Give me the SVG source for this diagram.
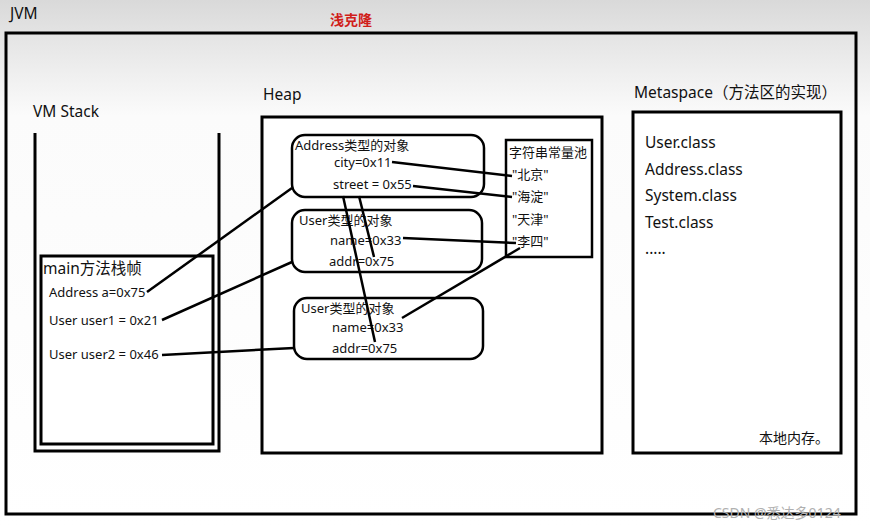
<svg xmlns="http://www.w3.org/2000/svg" width="870" height="527" viewBox="0 0 870 527">
<defs>
<linearGradient id="bg" x1="0" y1="0" x2="0" y2="1">
<stop offset="0" stop-color="#d9d9d9"/>
<stop offset="0.08" stop-color="#e6e6e6"/>
<stop offset="0.22" stop-color="#fbfbfb"/>
<stop offset="1" stop-color="#ffffff"/>
</linearGradient>
</defs>
<style>
text{font-family:"Noto Sans","Noto Sans CJK SC",sans-serif;fill:#111}
.lbl{font-size:15.5px}
.sm{font-size:13px}
.box{fill:none;stroke:#000;stroke-width:3}
.wbox{fill:#fff;stroke:#000;stroke-width:3}
.obj{fill:#fff;stroke:#000;stroke-width:2.5}
.edge{stroke:#000;stroke-width:2.5;fill:none}
</style>
<rect x="0" y="0" width="870" height="527" fill="url(#bg)"/>
<text x="10" y="19" class="lbl">JVM</text>
<text x="330" y="25" style="font-size:14px;font-weight:bold;fill:#d0201a">浅克隆</text>
<g id="jvm"><rect x="6" y="33" width="850" height="481" class="box"/></g>

<g id="vmstack">
<text x="33" y="117" class="lbl">VM Stack</text>
<path d="M35,133 V451 H219 V133" class="box"/>
</g>
<g id="mainframe">
<rect x="41" y="256" width="172" height="188" class="wbox"/>
<text x="43" y="274" class="lbl">main方法栈帧</text>
<text x="49" y="297" class="sm">Address a=0x75</text>
<text x="49" y="325" class="sm">User user1 = 0x21</text>
<text x="49" y="359" class="sm">User user2 = 0x46</text>
</g>

<g id="heap">
<text x="263" y="100" class="lbl">Heap</text>
<rect x="262" y="117" width="340" height="336" class="wbox"/>
</g>
<g id="address-obj">
<rect x="292" y="135" width="192" height="62" rx="13" class="obj"/>
<text x="295" y="150" class="sm">Address类型的对象</text>
<text x="334" y="167" class="sm">city=0x11</text>
<text x="333" y="189" class="sm">street = 0x55</text>
</g>
<g id="user-obj1">
<rect x="292" y="210" width="190" height="62" rx="13" class="obj"/>
<text x="299" y="225" class="sm">User类型的对象</text>
<text x="330" y="245" class="sm">name=0x33</text>
<text x="329" y="266" class="sm">addr=0x75</text>
</g>
<g id="user-obj2">
<rect x="294" y="298" width="189" height="61" rx="13" class="obj"/>
<text x="301" y="313" class="sm">User类型的对象</text>
<text x="332" y="332" class="sm">name=0x33</text>
<text x="332" y="353" class="sm">addr=0x75</text>
</g>
<g id="string-pool">
<rect x="506" y="140" width="86" height="117" fill="#fff" stroke="#000" stroke-width="2.5"/>
<text x="509" y="157" class="sm">字符串常量池</text>
<text x="512" y="179" class="sm">"北京"</text>
<text x="512" y="201" class="sm">"海淀"</text>
<text x="512" y="224" class="sm">"天津"</text>
<text x="512" y="246" class="sm">"李四"</text>
</g>

<g id="metaspace">
<text x="634" y="98" class="lbl">Metaspace（方法区的实现）</text>
<rect x="633" y="112" width="208" height="341" class="wbox"/>
<text x="645" y="148" class="lbl">User.class</text>
<text x="645" y="175" class="lbl">Address.class</text>
<text x="645" y="201" class="lbl">System.class</text>
<text x="645" y="228" class="lbl">Test.class</text>
<text x="645" y="254" class="lbl">.....</text>
<text x="759" y="443" style="font-size:14px">本地内存。</text>
</g>

<g id="connectors">
<line x1="147" y1="292" x2="292" y2="188" class="edge"/>
<line x1="162" y1="320" x2="292" y2="262" class="edge"/>
<line x1="162" y1="355" x2="294" y2="348" class="edge"/>
<line x1="392" y1="162" x2="512" y2="176" class="edge"/>
<line x1="413" y1="186" x2="512" y2="197" class="edge"/>
<line x1="403" y1="238" x2="516" y2="243" class="edge"/>
<line x1="402" y1="318" x2="520" y2="248" class="edge"/>
<line x1="343" y1="196" x2="375" y2="342" class="edge"/>
<line x1="359" y1="196" x2="374" y2="257" class="edge"/>
</g>
<text x="713" y="518" style="font-size:14px;fill:#b0b0b0;font-family:'Noto Sans','Noto Sans CJK SC',sans-serif">CSDN @悉达多0124</text>
</svg>
